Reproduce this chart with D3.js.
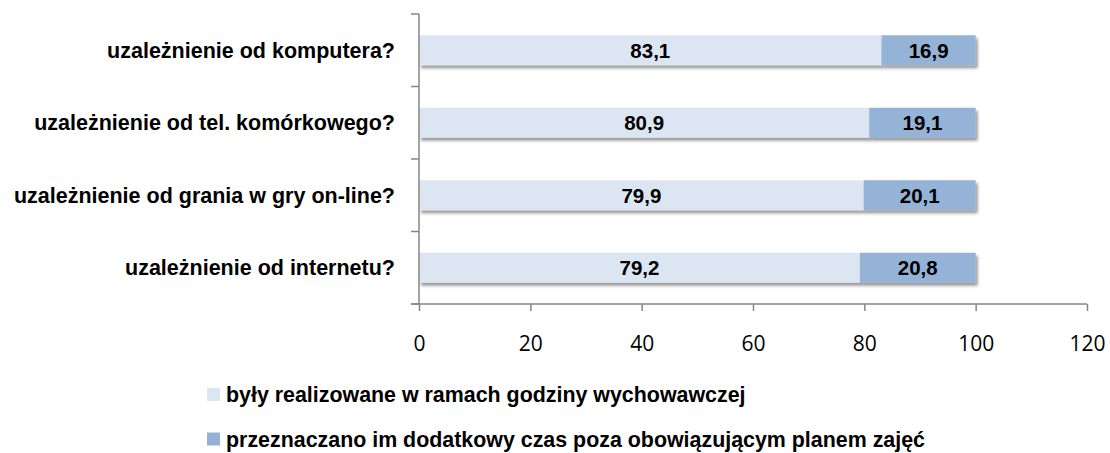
<!DOCTYPE html>
<html>
<head>
<meta charset="utf-8">
<script src="https://cdn.jsdelivr.net/npm/d3@7"></script>
<style>
  body { margin: 0; background: #fff; }
  svg { display: block; }
  .cat { font-family: "Liberation Sans Narrow", "Arial Narrow", "Liberation Sans", sans-serif; font-weight: bold; font-size: 21.5px; fill: #000; }
  .val { font-family: "Liberation Sans Narrow", "Arial Narrow", "Liberation Sans", sans-serif; font-weight: bold; font-size: 20.5px; fill: #000; }
  .leg { font-family: "Liberation Sans Narrow", "Arial Narrow", "Liberation Sans", sans-serif; font-weight: bold; font-size: 21.4px; fill: #000; }
  .xaxis text { font-family: "Open Sans", sans-serif; font-size: 21px; fill: #000; }
</style>
</head>
<body>
<svg id="svg"></svg>
<script>
// categories, top to bottom
var categories = [
    "uzależnienie od komputera?",
    "uzależnienie od tel. komórkowego?",
    "uzależnienie od grania w gry on-line?",
    "uzależnienie od internetu?"
];
var seriesNames = [
    "były realizowane w ramach godziny wychowawczej",
    "przeznaczano im dodatkowy czas poza obowiązującym planem zajęć"
];
var inClass = [83.1, 80.9, 79.9, 79.2];
var extraTime = [16.9, 19.1, 20.1, 20.8];
var xTicks = [0, 20, 40, 60, 80, 100, 120];
var colors = ["#dce6f2", "#95b3d7"];

var width = 1110, height = 453;
var axisColor = "#868686";

var svg = d3.select("#svg")
        .attr("width", width)
        .attr("height", height);

// drop shadow like the office chart
var defs = svg.append("defs");
var f = defs.append("filter").attr("id", "shadow")
        .attr("x", "-5%").attr("y", "-30%").attr("width", "110%").attr("height", "180%");
f.append("feDropShadow")
    .attr("dx", 2).attr("dy", 3).attr("stdDeviation", 1.8)
    .attr("flood-color", "#000").attr("flood-opacity", 0.4);

var x = d3.scaleLinear().domain([0, 120]).range([419, 1087]);
var y = d3.scaleBand().domain(categories).range([14, 304])
        .paddingInner(0.586).paddingOuter(0.293);

// stacked rows
var rows = categories.map(function(c, i) {
    return { cat: c, vals: [inClass[i], extraTime[i]] };
});
var stack = d3.stack().keys([0, 1]).value(function(d, k) { return d.vals[k]; });
var series = stack(rows);

var fmt = function(v) { return d3.format(".1f")(v).replace(".", ","); };

var bars = svg.append("g").attr("filter", "url(#shadow)");
series.forEach(function(s, k) {
    bars.selectAll(".s" + k)
        .data(s)
        .enter()
        .append("rect")
        .attr("class", "s" + k)
        .attr("x", function(d) { return x(d[0]); })
        .attr("width", function(d) { return x(d[1]) - x(d[0]); })
        .attr("y", function(d) { return y(d.data.cat); })
        .attr("height", y.bandwidth())
        .attr("fill", colors[k]);
});

// value labels
series.forEach(function(s, k) {
    svg.append("g").selectAll("text")
        .data(s)
        .enter()
        .append("text")
        .attr("class", "val")
        .attr("x", function(d) { return (x(d[0]) + x(d[1])) / 2; })
        .attr("y", function(d) { return y(d.data.cat) + y.bandwidth() / 2; })
        .attr("dy", "0.36em")
        .attr("text-anchor", "middle")
        .text(function(d) { return fmt(d[1] - d[0]); });
});

// y axis: line + ticks at category boundaries
var yax = svg.append("g");
yax.append("line")
    .attr("x1", x(0)).attr("x2", x(0))
    .attr("y1", y.range()[0]).attr("y2", y.range()[1])
    .attr("stroke", axisColor).attr("stroke-width", 1.5);
for (var i = 0; i <= categories.length; ++i) {
    var ty = y.range()[0] + i * y.step();
    yax.append("line")
        .attr("x1", x(0) - 8).attr("x2", x(0))
        .attr("y1", ty).attr("y2", ty)
        .attr("stroke", axisColor).attr("stroke-width", 1.5);
}
yax.selectAll("text.cat")
    .data(categories)
    .enter()
    .append("text")
    .attr("class", "cat")
    .attr("x", 395)
    .attr("y", function(d) { return y(d) + y.bandwidth() / 2; })
    .attr("dy", "0.36em")
    .attr("text-anchor", "end")
    .text(function(d) { return d; });

// x axis
var xax = svg.append("g").attr("class", "xaxis")
        .attr("transform", "translate(0," + y.range()[1] + ")")
        .call(d3.axisBottom(x).tickValues(xTicks).tickSize(7).tickSizeOuter(0).tickPadding(25)
              .tickFormat(d3.format("d")));
xax.select(".domain").remove();
xax.selectAll(".tick line").attr("stroke", axisColor).attr("stroke-width", 1.5);
xax.append("line")
    .attr("x1", x(0) - 8).attr("x2", x(120))
    .attr("y1", 0).attr("y2", 0)
    .attr("stroke", axisColor).attr("stroke-width", 1.5);

// legend
var leg = svg.append("g");
seriesNames.forEach(function(name, k) {
    var ly = 394.5 + k * 44.5;
    leg.append("rect")
        .attr("x", 207).attr("y", ly - 6.5)
        .attr("width", 13).attr("height", 13)
        .attr("fill", colors[k]);
    leg.append("text")
        .attr("class", "leg")
        .attr("x", 226).attr("y", ly)
        .attr("dy", "0.36em")
        .text(name);
});
</script>
</body>
</html>
